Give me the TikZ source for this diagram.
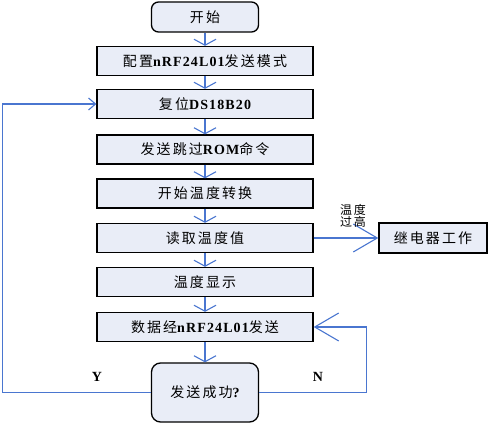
\documentclass[tikz,border=0pt]{standalone}
\usepackage{fontspec}
\setmainfont{Noto Sans CJK SC}[LetterSpace=15]
\newfontfamily\latin{Liberation Serif}[LetterSpace=8]
\usetikzlibrary{arrows.meta}
\definecolor{flowblue}{RGB}{74,118,208}
\definecolor{boxfill}{RGB}{233,237,247}
\newcommand{\lat}[1]{{\latin\bfseries #1}}
\begin{document}
\begin{tikzpicture}[x=1pt,y=-1pt,
    procbox/.style={draw=black,line width=1.3pt,fill=boxfill,minimum width=216pt,minimum height=29pt,inner sep=0pt,font=\fontsize{14}{16}\selectfont},
    endbox/.style={procbox,rounded corners=7pt,minimum width=107pt},
    flowline/.style={draw=flowblue,line width=1.1pt,-{Straight Barb[length=6pt,width=22pt,line width=1.1pt]}},
    sideline/.style={flowline,-{Straight Barb[length=24pt,width=28pt,line width=1.1pt]}}]
        \useasboundingbox (0,0) rectangle (491,425);
        \node[endbox,minimum height=30pt] (start) at (205,17) {开始};
        \node[procbox] (cfg) at (205,61) {配置\lat{nRF24L01}发送模式};
        \node[procbox] (reset) at (205,104) {复位\lat{DS18B20}};
        \node[procbox] (skip) at (205,149.5) {发送跳过\lat{ROM}命令};
        \node[procbox] (conv) at (205,193.5) {开始温度转换};
        \node[procbox] (read) at (205,238) {读取温度值};
        \node[procbox] (show) at (205,282) {温度显示};
        \node[procbox] (send) at (205,327) {数据经\lat{nRF24L01}发送};
        \node[endbox,minimum height=59pt,rounded corners=9pt] (ok) at (205,392.5) {发送成功\lat{?}};
        \node[procbox,minimum width=108pt,minimum height=30pt] (relay) at (433,238) {继电器工作};
        \draw[flowline] (start) -- (cfg);
        \draw[flowline] (cfg) -- (reset);
        \draw[flowline] (reset) -- (skip);
        \draw[flowline] (skip) -- (conv);
        \draw[flowline] (conv) -- (read);
        \draw[flowline] (read) -- (show);
        \draw[flowline] (show) -- (send);
        \draw[flowline] (send) -- (ok);
        \draw[sideline] (read) -- (relay);
        \node[align=center,font=\fontsize{12}{12.5}\selectfont,inner sep=0pt] (hot) at (353,216) {温度\\过高};
        \draw[flowline,-{Straight Barb[length=7pt,width=12pt,line width=1.1pt]}] (ok.west) -- ++(-148,0) |- (reset.west);
        \draw[sideline] (ok.east) -- ++(107,0) |- (send.east);
        \node[font=\fontsize{14}{15}\selectfont\latin\bfseries] (yes) at (97,377) {Y};
        \node[font=\fontsize{14}{15}\selectfont\latin\bfseries] (no) at (318,377) {N};
    \end{tikzpicture}
\end{document}
